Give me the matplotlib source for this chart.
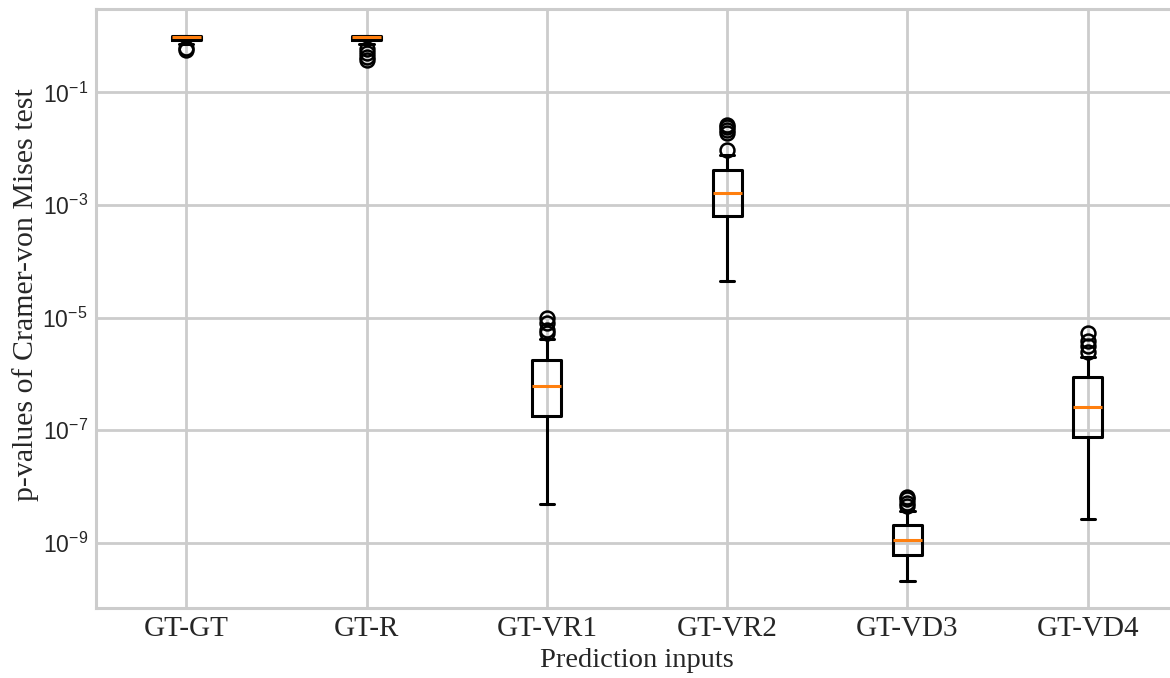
import matplotlib
matplotlib.use("Agg")
import matplotlib.pyplot as plt
import seaborn as sns

# values (p-values, log scale)
labels = ["GT-GT", "GT-R", "GT-VR1", "GT-VR2", "GT-VD3", "GT-VD4"]
medians = [0.97, 0.96, 6.0e-7, 1.66e-3, 1.1e-9, 2.6e-7]
q1 = [0.85, 0.85, 1.75e-7, 6.4e-4, 6.0e-10, 7.4e-8]
q3 = [1.0, 1.0, 1.73e-6, 4.2e-3, 2.1e-9, 8.8e-7]
whis_lo = [0.74, 0.72, 4.9e-9, 4.4e-5, 2.1e-10, 2.6e-9]
whis_hi = [1.0, 1.0, 4.1e-6, 7.7e-3, 3.6e-9, 2.0e-6]
outliers = [
    [0.57, 0.62],
    [0.59, 0.50, 0.42, 0.38],
    [5.4e-6, 6.0e-6, 8.1e-6, 9.8e-6],
    [9.5e-3, 0.019, 0.0215, 0.0245, 0.026],
    [4.5e-9, 5.1e-9, 5.9e-9, 6.6e-9],
    [2.4e-6, 3.1e-6, 3.8e-6, 5.4e-6],
]
ytick_values = [1e-1, 1e-3, 1e-5, 1e-7, 1e-9]

sns.set_theme(style="whitegrid")
plt.rcParams["font.family"] = ["Liberation Sans", "DejaVu Sans"]
plt.rcParams["grid.linewidth"] = 2.0
plt.rcParams["grid.color"] = ".8"

serif = ["Liberation Serif", "DejaVu Serif"]

fig = plt.figure(figsize=(11.7, 6.78), dpi=100)
ax = fig.add_axes([96 / 1170, 70 / 678, 1082 / 1170, 599 / 678])

stats = []
for i, lab in enumerate(labels):
    stats.append({
        "label": lab,
        "med": medians[i],
        "q1": q1[i],
        "q3": q3[i],
        "whislo": whis_lo[i],
        "whishi": whis_hi[i],
        "fliers": outliers[i],
    })

ax.bxp(
    stats,
    widths=0.16,
    boxprops=dict(color="black", linewidth=2.2),
    whiskerprops=dict(color="black", linewidth=2.2),
    capprops=dict(color="black", linewidth=2.2),
    medianprops=dict(color="#ff7f0e", linewidth=2.2),
    flierprops=dict(marker="o", markerfacecolor="none", markeredgecolor="black",
                    markersize=10, markeredgewidth=1.8),
)

ax.set_yscale("log")
ax.set_yticks(ytick_values)
ax.minorticks_off()
ax.set_xlim(0.5, 6.5)

for sp in ax.spines.values():
    sp.set_color(".8")
    sp.set_linewidth(2.2)
ax.tick_params(axis="both", length=0)
ax.tick_params(axis="y", labelsize=16.5, pad=6)
ax.tick_params(axis="x", pad=6)
for t in ax.get_xticklabels():
    t.set_fontfamily(serif)
    t.set_fontsize(21)

ax.set_xlabel("Prediction inputs", fontfamily=serif, fontsize=20.5, labelpad=4)
ax.set_ylabel("p-values of Cramer-von Mises test", fontfamily=serif, fontsize=21.5)
ax.yaxis.set_label_coords(-0.053, 0.523)

fig.savefig("out.png", dpi=100)
plt.close(fig)
